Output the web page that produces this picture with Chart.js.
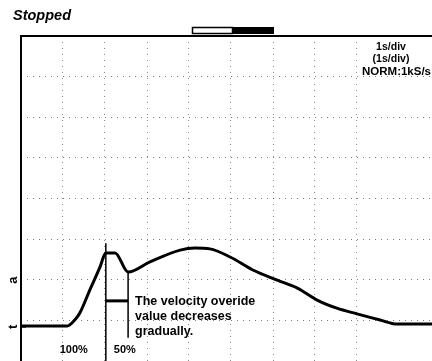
<!DOCTYPE html>
<html>
<head>
<meta charset="utf-8">
<script src="https://cdn.jsdelivr.net/npm/chart.js@4.4.1/dist/chart.umd.min.js"></script>
<style>
html,body{margin:0;padding:0;background:#fff;overflow:hidden;}
canvas{display:block;}
</style>
</head>
<body>
<canvas id="c" width="432" height="361"></canvas>
<script>
// time axis in seconds (1 s/div), velocity in screen divisions
const timeSec = [0, 1.10, 1.29, 1.40, 1.64, 1.88, 2.02, 2.24, 2.55, 3.07, 3.79, 4.14, 4.50, 4.98, 5.52, 6.10, 6.57, 7.05, 7.52, 8.00, 8.55, 8.95, 9.33, 9.79];
const velocity = [0.86, 0.86, 1.02, 1.18, 1.75, 2.31, 2.66, 2.66, 2.19, 2.44, 2.73, 2.78, 2.76, 2.56, 2.24, 1.99, 1.80, 1.50, 1.30, 1.16, 1.01, 0.91, 0.91, 0.91];
const cursorTimes = [2.02, 2.55];
const cursorLabels = ["100%", "50%"];
const statusText = "Stopped";
const timebaseLabels = ["1s/div", "(1s/div)", "NORM:1kS/s"];
const noteLines = ["The velocity overide", "value decreases", "gradually."];
const markerLevels = [1.99, 0.84];
const markerGlyphs = ["a", "t"];

const FONT = '"Liberation Sans", Arial, sans-serif';

const overlay = {
  id: 'overlay',
  afterDraw(chart) {
    const ctx = chart.ctx, a = chart.chartArea;
    const xs = chart.scales.x, ys = chart.scales.y;
    ctx.save();
    // frame: left and top borders
    ctx.strokeStyle = '#000';
    ctx.lineWidth = 2;
    ctx.beginPath();
    ctx.moveTo(a.left, a.bottom + 2);
    ctx.lineTo(a.left, a.top);
    ctx.lineTo(a.right, a.top);
    ctx.stroke();
    // record-position indicator
    ctx.lineWidth = 1.5;
    ctx.fillStyle = '#fff';
    ctx.fillRect(192, 27, 41, 6);
    ctx.strokeRect(192.5, 27.5, 40, 6);
    ctx.fillStyle = '#000';
    ctx.fillRect(233, 27, 41, 7);
    // status
    ctx.fillStyle = '#000';
    ctx.font = 'italic bold 14.5px ' + FONT;
    ctx.textBaseline = 'alphabetic';
    ctx.textAlign = 'left';
    ctx.fillText(statusText, 13, 20);
    // timebase text
    ctx.font = 'bold 10.5px ' + FONT;
    ctx.textAlign = 'center';
    ctx.fillText(timebaseLabels[0], 391, 50);
    ctx.fillText(timebaseLabels[1], 391, 62);
    ctx.textAlign = 'left';
    ctx.font = 'bold 11.5px ' + FONT;
    ctx.fillText(timebaseLabels[2], 362, 75);
    // cursors
    const c1 = xs.getPixelForValue(cursorTimes[0]);
    const c2 = xs.getPixelForValue(cursorTimes[1]);
    ctx.lineWidth = 1.5;
    ctx.beginPath();
    ctx.moveTo(c1, ys.getPixelForValue(2.90));
    ctx.lineTo(c1, a.bottom);
    ctx.moveTo(c2, ys.getPixelForValue(2.19));
    ctx.lineTo(c2, ys.getPixelForValue(0.57));
    ctx.stroke();
    ctx.lineWidth = 3;
    ctx.beginPath();
    const yb = ys.getPixelForValue(1.48);
    ctx.moveTo(c1, yb);
    ctx.lineTo(c2, yb);
    ctx.stroke();
    // cursor labels
    ctx.font = 'bold 11px ' + FONT;
    ctx.textAlign = 'right';
    ctx.fillText(cursorLabels[0], c1 - 18, 353);
    ctx.textAlign = 'left';
    ctx.fillText(cursorLabels[1], c1 + 8, 353);
    // note
    ctx.font = 'bold 12.5px ' + FONT;
    ctx.textAlign = 'left';
    ctx.textBaseline = 'middle';
    noteLines.forEach((t, i) => ctx.fillText(t, c2 + 7, 302 + i * 15));
    // level markers at left
    ctx.font = 'bold 13px ' + FONT;
    ctx.textAlign = 'center';
    markerLevels.forEach((v, i) => {
      const py = ys.getPixelForValue(v);
      ctx.save();
      ctx.translate(13, py);
      ctx.rotate(-Math.PI / 2);
      ctx.fillText(markerGlyphs[i], 0, 0);
      ctx.restore();
    });
    ctx.lineWidth = 1.5;
    ctx.beginPath();
    const pt = ys.getPixelForValue(markerLevels[1]);
    ctx.moveTo(a.left, pt);
    ctx.lineTo(a.left + 5, pt);
    ctx.stroke();
    ctx.restore();
  }
};

new Chart(document.getElementById('c'), {
  type: 'line',
  data: {
    datasets: [{
      data: timeSec.map((t, i) => ({x: t, y: velocity[i]})),
      borderColor: '#000',
      borderWidth: 3,
      pointRadius: 0,
      cubicInterpolationMode: 'monotone',
      fill: false
    }]
  },
  options: {
    responsive: false,
    animation: false,
    devicePixelRatio: 1,
    layout: {padding: {left: 21, top: 36, right: 0, bottom: 0}},
    plugins: {legend: {display: false}, tooltip: {enabled: false}, title: {display: false}},
    scales: {
      x: {
        type: 'linear', min: 0, max: 411 / 42,
        ticks: {display: false, stepSize: 1},
        border: {display: false, dash: [1, 5]},
        grid: {drawTicks: false, color: 'rgba(0,0,0,0.45)', lineWidth: 1, tickLength: 0}
      },
      y: {
        type: 'linear', min: 0, max: 8,
        ticks: {display: false, stepSize: 1},
        border: {display: false, dash: [1, 5]},
        grid: {drawTicks: false, color: 'rgba(0,0,0,0.5)', lineWidth: 1, tickLength: 0}
      }
    }
  },
  plugins: [overlay]
});
</script>
</body>
</html>
